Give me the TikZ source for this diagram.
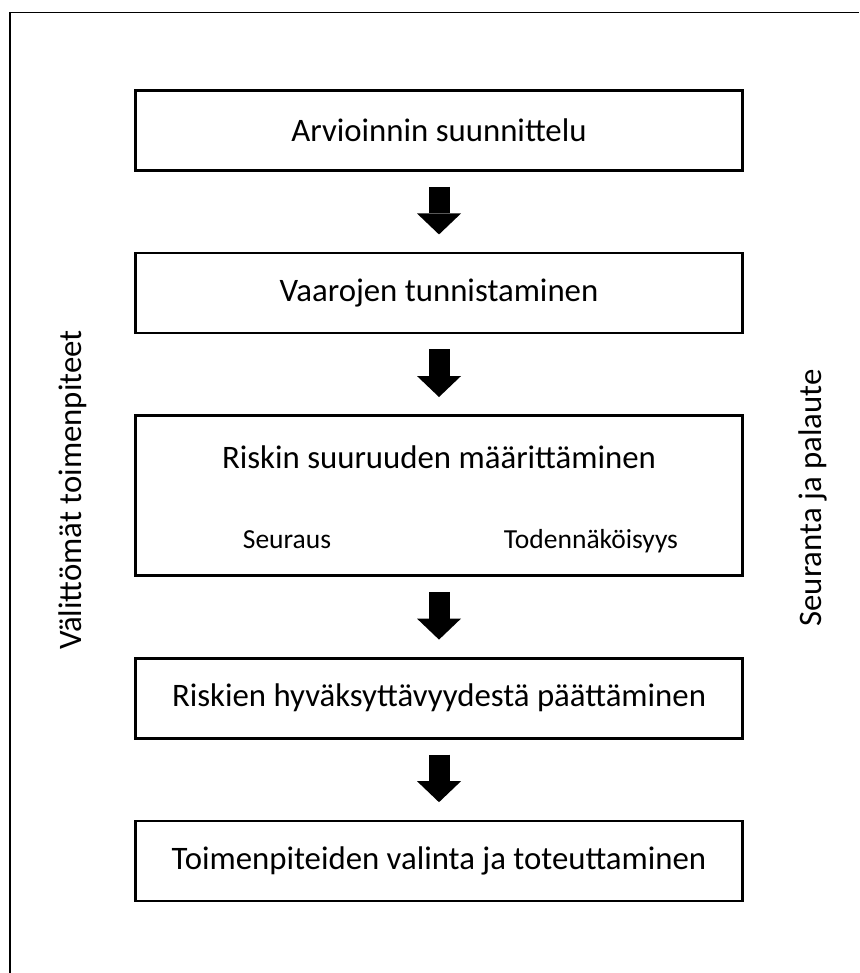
\documentclass[tikz,border=0pt]{standalone}
\usepackage{fontspec}
\setmainfont{Carlito}
\usepackage{tikz}
\usetikzlibrary{positioning,arrows.meta}

\begin{document}
\begin{tikzpicture}[
    node distance=2.4cm,
    box/.style={draw, line width=2.2pt, minimum width=18.2cm, minimum height=2.4cm, align=center, font=\fontsize{28}{34}\selectfont},
    bigbox/.style={box, minimum height=4.8cm},
    title/.style={anchor=base, font=\fontsize{28}{34}\selectfont},
    sub/.style={anchor=base, font=\fontsize{23.5}{28}\selectfont},
    side/.style={rotate=90, font=\fontsize{28}{34}\selectfont},
    arr/.style={line width=0.63cm, -{Triangle[length=0.63cm, width=1.32cm, line width=0pt]}, shorten <=0.45cm, shorten >=0.52cm},
    frame/.style={line width=1.7pt}
]
\useasboundingbox (0,0) rectangle (25.77,-29.19);
% Outer frame (cut at right and bottom)
\draw[frame] (0.3,-29.19) |- (25.77,-0.375);

% Main flow
\node[box] (plan) at (13.17,-3.915) {Arvioinnin suunnittelu};
\node[box, below=of plan] (vaarat) {Vaarojen tunnistaminen};
\node[bigbox, below=of vaarat] (riski) {};
\node[box, below=of riski] (hyvaks) {Riskien hyväksyttävyydestä päättäminen};
\node[box, below=of hyvaks] (toimet) {Toimenpiteiden valinta ja toteuttaminen};

% Texts inside the risk box
\node[title] (riskiotsikko) at ([yshift=-1.62cm]riski.north) {Riskin suuruuden määrittäminen};
\node[sub] (seuraus) at ([xshift=-4.56cm, yshift=0.84cm]riski.south) {Seuraus};
\node[sub] (todnak) at ([xshift=4.56cm, yshift=0.84cm]riski.south) {Todennäköisyys};

\draw[arr] (plan) -- (vaarat);
\draw[arr] (vaarat) -- (riski);
\draw[arr] (riski) -- (hyvaks);
\draw[arr] (hyvaks) -- (toimet);

% Side labels
\node[side] (valittomat) at (2.19,-14.7) {Välittömät toimenpiteet};
\node[side] (seuranta) at (24.39,-14.94) {Seuranta ja palaute};
\end{tikzpicture}
\end{document}
